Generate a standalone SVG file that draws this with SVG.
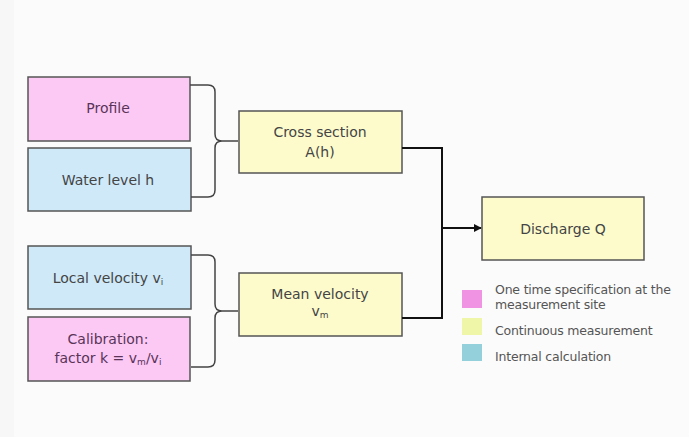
<svg xmlns="http://www.w3.org/2000/svg" width="689" height="437" viewBox="0 0 689 437">
<defs>
<marker id="arr" viewBox="0 0 10 10" refX="9" refY="5" markerWidth="8" markerHeight="8" markerUnits="userSpaceOnUse" orient="auto"><path d="M0,0 L10,5 L0,10 z" fill="#111"/></marker>
<style>
.box{stroke:#555;stroke-width:1.5}
.pink{fill:#fcc9f5}
.blue{fill:#cfe9f9}
.yel{fill:#fdfbcc}
.t{font-family:"DejaVu Sans",Verdana,sans-serif;font-size:14px;fill:#444;text-anchor:middle}
.tp{fill:#5a3358}
.lg{font-family:"DejaVu Sans",Verdana,sans-serif;font-size:12.5px;fill:#555;letter-spacing:-0.2px}
.brace{fill:none;stroke:#444;stroke-width:1.5}
.conn{fill:none;stroke:#111;stroke-width:2}
</style>
</defs>
<rect width="689" height="437" fill="#f7f7f7"/>
<rect x="14" y="0" width="675" height="437" fill="#fbfbfb"/>
<g id="profile"><rect class="box pink" x="28" y="77" width="162" height="64"/><text class="t tp" x="108" y="113">Profile</text></g>
<g id="water-level"><rect class="box blue" x="28" y="148" width="163" height="63"/><text class="t" x="108" y="185">Water level h</text></g>
<g id="local-velocity"><rect class="box blue" x="28" y="246" width="163" height="63"/><text class="t" x="108" y="283">Local velocity v<tspan font-size="9" dy="2">i</tspan></text></g>
<g id="calibration"><rect class="box pink" x="28" y="317" width="162" height="64"/><text class="t tp" x="108" y="344">Calibration:</text><text class="t tp" x="108" y="363">factor k = v<tspan font-size="9" dy="2">m</tspan><tspan dy="-2">/v</tspan><tspan font-size="9" dy="2">i</tspan></text></g>
<g id="cross-section"><rect class="box yel" x="239" y="111" width="163" height="62"/><text class="t" x="320" y="137">Cross section</text><text class="t" x="320" y="157">A(h)</text></g>
<g id="mean-velocity"><rect class="box yel" x="239" y="273" width="163" height="63"/><text class="t" x="320" y="299">Mean velocity</text><text class="t" x="320" y="316">v<tspan font-size="9" dy="2">m</tspan></text></g>
<g id="discharge"><rect class="box yel" x="482" y="197" width="162" height="63"/><text class="t" x="563" y="234">Discharge Q</text></g>
<g id="connectors">
<path class="brace" d="M190,85 H208 Q215,85 215,92 V134 Q215,141 222,141 H238 M222,141 Q215,141 215,148 V190 Q215,197 208,197 H191"/>
<path class="brace" d="M191,255 H208 Q215,255 215,262 V304 Q215,311 222,311 H238 M222,311 Q215,311 215,318 V360 Q215,367 208,367 H191"/>
<path class="conn" d="M402,148 H442 V318 H402"/>
<path class="conn" d="M442,228 H481" marker-end="url(#arr)"/>
</g>
<g id="legend">
<rect x="462" y="290" width="20" height="18" fill="#f193e3"/>
<rect x="462" y="318" width="20" height="17" fill="#eff6a8"/>
<rect x="462" y="344" width="20" height="17" fill="#94d0dc"/>
<text class="lg" x="495" y="294">One time specification at the</text>
<text class="lg" x="495" y="309">measurement site</text>
<text class="lg" x="495" y="335">Continuous measurement</text>
<text class="lg" x="495" y="361">Internal calculation</text>
</g>
</svg>
